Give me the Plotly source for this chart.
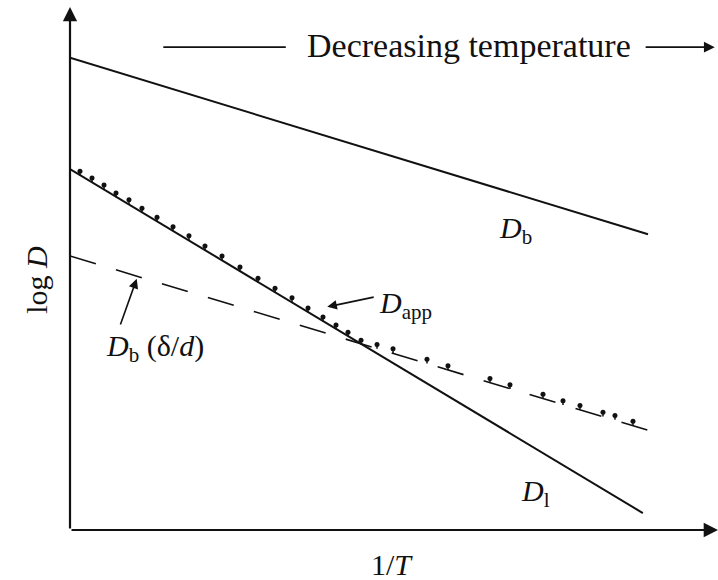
import plotly.graph_objects as go

# Straight-line relations (1/T vs log D), arbitrary units
inv_T_bulk = [0.0, 8.92]
logD_bulk = [8.91, 5.58]          # D_b (lattice/bulk)

inv_T_lat = [0.0, 8.84]
logD_lat = [6.81, 0.32]           # D_l

inv_T_gb = [0.0, 9.06]
logD_gb = [5.17, 1.83]            # D_b (delta/d)

# Apparent diffusivity marks (D_app)
inv_T_app = [0.154, 0.340, 0.525, 0.710, 0.910, 1.111, 1.343, 1.590, 1.836, 2.083,
             2.346, 2.623, 2.901, 3.164, 3.426, 3.673, 3.904, 4.105, 4.290, 4.491,
             4.738, 4.985, 5.509, 5.833, 6.481, 6.790, 7.299, 7.608, 7.870, 8.225,
             8.410, 8.688]
logD_app = [6.77, 6.64, 6.51, 6.36, 6.23, 6.07, 5.90, 5.72, 5.55, 5.36,
            5.17, 4.96, 4.75, 4.56, 4.38, 4.19, 4.02, 3.87, 3.73, 3.58,
            3.50, 3.42, 3.22, 3.10, 2.86, 2.74, 2.56, 2.44, 2.35, 2.22,
            2.16, 2.05]

FONT = "Liberation Serif"
BLACK = "#111111"

fig = go.Figure()
fig.add_trace(go.Scatter(x=inv_T_bulk, y=logD_bulk, mode="lines",
                         line=dict(color=BLACK, width=2), hoverinfo="skip"))
fig.add_trace(go.Scatter(x=inv_T_lat, y=logD_lat, mode="lines",
                         line=dict(color=BLACK, width=2), hoverinfo="skip"))
fig.add_trace(go.Scatter(x=inv_T_gb, y=logD_gb, mode="lines",
                         line=dict(color=BLACK, width=1.6, dash="27px,21px"),
                         hoverinfo="skip"))
fig.add_trace(go.Scatter(x=inv_T_app, y=logD_app, mode="markers",
                         marker=dict(color=BLACK, size=5, symbol="circle"),
                         error_y=dict(type="data", symmetric=False,
                                      array=[0] * len(logD_app),
                                      arrayminus=[0.08] * len(logD_app),
                                      color=BLACK, thickness=1.5, width=0),
                         hoverinfo="skip"))

ann = []
# axes with arrowheads
ann.append(dict(x=0, y=9.87, ax=0, ay=0, xref="x", yref="y", axref="x", ayref="y",
                showarrow=True, arrowhead=2, arrowsize=1.3, arrowwidth=2.2,
                arrowcolor=BLACK, standoff=0, text=""))
ann.append(dict(x=10, y=0, ax=0, ay=0, xref="x", yref="y", axref="x", ayref="y",
                showarrow=True, arrowhead=2, arrowsize=1.3, arrowwidth=2.2,
                arrowcolor=BLACK, standoff=0, text=""))
# decreasing temperature arrow
ann.append(dict(x=9.95, y=9.11, ax=8.86, ay=9.11, xref="x", yref="y", axref="x", ayref="y",
                showarrow=True, arrowhead=2, arrowsize=1.2, arrowwidth=1.8,
                arrowcolor=BLACK, standoff=0, text=""))
# pointer arrows
ann.append(dict(x=3.97, y=4.21, ax=4.71, ay=4.40, xref="x", yref="y", axref="x", ayref="y",
                showarrow=True, arrowhead=2, arrowsize=1.2, arrowwidth=1.6,
                arrowcolor=BLACK, standoff=0, text=""))
ann.append(dict(x=1.03, y=4.74, ax=0.77, ay=3.85, xref="x", yref="y", axref="x", ayref="y",
                showarrow=True, arrowhead=2, arrowsize=1.2, arrowwidth=1.6,
                arrowcolor=BLACK, standoff=0, text=""))

def label(text, x, y, xanchor="left", size=30, angle=0, ref="data"):
    r = ("x", "y") if ref == "data" else ("paper", "paper")
    return dict(text=text, x=x, y=y, xref=r[0], yref=r[1], showarrow=False,
                xanchor=xanchor, yanchor="middle", textangle=angle,
                font=dict(family=FONT, size=size, color=BLACK))

ann.append(label("Decreasing temperature", 6.16, 9.15, xanchor="center", size=34))
ann.append(label("<i>D</i><sub>b</sub>", 6.59, 5.66))
ann.append(label("<i>D</i><sub>app</sub>", 4.74, 4.25))
ann.append(label("<i>D</i><sub>b</sub> (δ/<i>d</i>)", 0.52, 3.43))
ann.append(label("<i>D</i><sub>l</sub>", 6.93, 0.70))
ann.append(label("1/<i>T</i>", 0.497, -0.066, xanchor="center", ref="paper"))
ann.append(label("log <i>D</i>", -0.051, 0.472, xanchor="center", angle=-90, ref="paper"))

shapes = [dict(type="line", xref="x", yref="y", x0=1.44, x1=3.33, y0=9.11, y1=9.11,
               line=dict(color=BLACK, width=1.8))]

fig.update_layout(
    width=718, height=580,
    margin=dict(l=70, r=0, t=0, b=50),
    paper_bgcolor="white", plot_bgcolor="white",
    showlegend=False,
    xaxis=dict(range=[0, 10], visible=False, fixedrange=True),
    yaxis=dict(range=[0, 10], visible=False, fixedrange=True),
    annotations=ann, shapes=shapes,
)

fig.write_html("out.html", config={"displayModeBar": False},
               post_script="document.body.style.margin='0';document.body.style.overflow='hidden';")
